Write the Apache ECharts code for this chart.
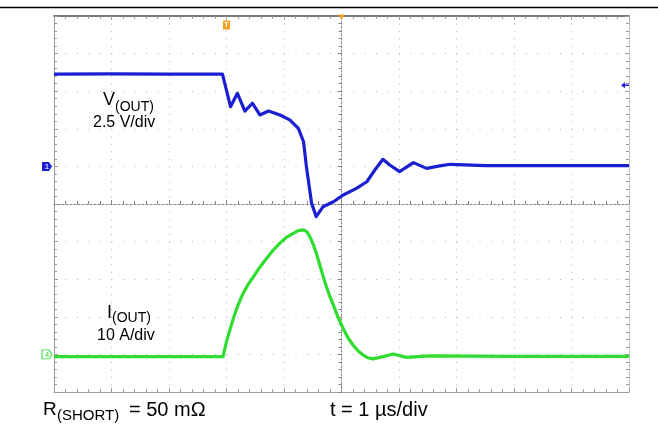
<!DOCTYPE html>
<html><head><meta charset="utf-8">
<script src="https://cdn.jsdelivr.net/npm/echarts@6/dist/echarts.min.js"></script>
<style>html,body{margin:0;padding:0;background:#fff}#c{width:658px;height:425px}</style>
</head><body><div id="c"></div>
<script>
// time in microseconds (1 us/div, 10 divisions)
const vTime  = [0, 1, 2, 2.93, 3.07, 3.19, 3.32, 3.45, 3.58, 3.73, 3.93, 4.10, 4.25, 4.34, 4.39, 4.48, 4.56, 4.68, 4.86, 5.03, 5.26, 5.44, 5.58, 5.72, 5.84, 6.01, 6.25, 6.48, 6.71, 6.89, 7.5, 8.5, 10];
// V(OUT) in volts (2.5 V/div)
const vValue = [6.14, 6.15, 6.14, 6.14, 3.97, 4.86, 3.68, 4.20, 3.42, 3.68, 3.42, 3.09, 2.53, 1.64, -0.02, -2.45, -3.34, -2.68, -2.35, -1.90, -1.46, -1.02, -0.24, 0.47, 0.09, -0.35, 0.25, -0.13, 0.03, 0.14, 0.05, 0.05, 0.05];
const iTime  = [0, 2.94, 3.00, 3.06, 3.12, 3.20, 3.29, 3.38, 3.47, 3.58, 3.70, 3.81, 3.93, 4.04, 4.16, 4.25, 4.34, 4.40, 4.45, 4.51, 4.57, 4.64, 4.71, 4.78, 4.86, 4.94, 5.03, 5.11, 5.20, 5.29, 5.38, 5.46, 5.55, 5.72, 5.90, 6.13, 6.54, 8, 10];
// I(OUT) in amperes (10 A/div)
const iValue = [-0.6, -0.6, 3.4, 6.6, 9.6, 13.1, 16.3, 18.7, 20.7, 23.2, 25.6, 27.7, 29.6, 31.1, 32.2, 32.9, 33.1, 32.6, 31.3, 29.2, 26.5, 22.9, 19.3, 16.1, 13.1, 9.8, 6.9, 4.5, 2.5, 0.9, -0.2, -0.9, -1.2, -0.6, 0.1, -0.8, -0.4, -0.5, -0.5];

const vAxisRange = [-15, 10];   // ground of CH1 at 4 div from top
const iAxisRange = [-10, 90];   // ground of CH4 at 9 div from top
const tRange = [0, 10];

const FONT = "'Liberation Sans', Arial, sans-serif";
const BLUE = '#1b1fd2';
const GREEN = '#2fdc2f';
const ORANGE = '#f0a020';

const chart = echarts.init(document.getElementById('c'));
const borderC = '#a0a0a0';
const tickC = '#9a9a9a';

const option = {
  animation: false,
  backgroundColor: '#fff',
  grid: { left: 54, right: 29, top: 16, bottom: 33 },
  xAxis: [
    { type: 'value', min: tRange[0], max: tRange[1], interval: 1, position: 'bottom',
      axisLine: { onZero: false, lineStyle: { color: borderC, width: 1 } },
      axisTick: { show: true, inside: true, length: 4, lineStyle: { color: tickC } },
      minorTick: { show: true, splitNumber: 5, length: 3, lineStyle: { color: tickC } },
      axisLabel: { show: false },
      splitLine: { show: true, lineStyle: { color: '#b4b4b4', width: 1, type: [1, 6.52] } } },
    { type: 'value', min: tRange[0], max: tRange[1], interval: 1, position: 'top',
      axisLine: { onZero: false, lineStyle: { color: '#7a7a7a', width: 2 } },
      axisTick: { show: true, inside: true, length: 4, lineStyle: { color: tickC } },
      minorTick: { show: true, splitNumber: 5, length: 3, lineStyle: { color: tickC } },
      axisLabel: { show: false }, splitLine: { show: false } },
    { type: 'value', min: tRange[0], max: tRange[1], interval: 1, position: 'bottom', offset: -188,
      axisLine: { onZero: false, lineStyle: { color: '#858585', width: 1, type: [2, 2] } },
      axisTick: { show: true, inside: true, length: 4, lineStyle: { color: '#858585' } },
      minorTick: { show: true, splitNumber: 5, length: 3, lineStyle: { color: '#858585' } },
      axisLabel: { show: false }, splitLine: { show: false } }
  ],
  yAxis: [
    { type: 'value', min: vAxisRange[0], max: vAxisRange[1], interval: 2.5, position: 'left',
      axisLine: { show: true, onZero: false, lineStyle: { color: borderC, width: 1 } },
      axisTick: { show: true, inside: true, length: 4, lineStyle: { color: tickC } },
      minorTick: { show: true, splitNumber: 5, length: 3, lineStyle: { color: tickC } },
      axisLabel: { show: false },
      splitLine: { show: true, lineStyle: { color: '#b4b4b4', width: 1, type: [1, 10.5] } } },
    { type: 'value', min: iAxisRange[0], max: iAxisRange[1], interval: 10, position: 'right',
      axisLine: { show: true, onZero: false, lineStyle: { color: '#c4c4c4', width: 1 } },
      axisTick: { show: true, inside: true, length: 4, lineStyle: { color: tickC } },
      minorTick: { show: true, splitNumber: 5, length: 3, lineStyle: { color: tickC } },
      axisLabel: { show: false }, splitLine: { show: false } },
    { type: 'value', min: vAxisRange[0], max: vAxisRange[1], interval: 2.5, position: 'left', offset: -287.5,
      axisLine: { show: true, onZero: false, lineStyle: { color: '#858585', width: 1, type: [2, 2] } },
      axisTick: { show: true, inside: false, length: 4, lineStyle: { color: '#858585' } },
      minorTick: { show: true, splitNumber: 5, length: 3, lineStyle: { color: '#858585' } },
      axisLabel: { show: false }, splitLine: { show: false } }
  ],
  series: [
    { name: 'V(OUT)', type: 'line', xAxisIndex: 0, yAxisIndex: 0, z: 4,
      data: vTime.map((t, k) => [t, vValue[k]]),
      showSymbol: false, symbol: 'none',
      lineStyle: { color: BLUE, width: 3.2, join: 'round' },
      markPoint: {
        data: [
          { coord: [0, 0], symbol: 'path://M0,0 L7,0 L10,4 L7,8 L0,8 Z', symbolSize: [10, 9], symbolOffset: [-7, 0],
            itemStyle: { color: BLUE },
            label: { show: true, position: 'inside', formatter: '1', color: '#fff', fontSize: 8, fontFamily: FONT } },
          { coord: [10, 5.4], symbol: 'path://M0,4 L5,0 L5,3 L10,3 L10,5 L5,5 L5,8 Z', symbolSize: [8, 6], symbolOffset: [-4, 0],
            itemStyle: { color: BLUE }, label: { show: false } },
          { coord: [3.0, 9.4], symbol: 'rect', symbolSize: [7, 9], itemStyle: { color: ORANGE },
            label: { show: true, position: 'inside', formatter: 'T', color: '#fff', fontSize: 7, fontWeight: 'bold', fontFamily: FONT } },
          { coord: [5, 10], symbol: 'path://M0,0 L10,0 L5,6 Z', symbolSize: [7, 5], symbolOffset: [0, 1],
            itemStyle: { color: ORANGE }, label: { show: false } }
        ]
      } },
    { name: 'I(OUT)', type: 'line', xAxisIndex: 0, yAxisIndex: 1, z: 3,
      data: iTime.map((t, k) => [t, iValue[k]]),
      showSymbol: false, symbol: 'none',
      lineStyle: { color: GREEN, width: 3.2, join: 'round' },
      markPoint: {
        data: [
          { coord: [0, 0], symbol: 'path://M0,0 L7,0 L10,4 L7,8 L0,8 Z', symbolSize: [10, 9], symbolOffset: [-7, 0],
            itemStyle: { color: '#fff', borderColor: GREEN, borderWidth: 1 },
            label: { show: true, position: 'inside', formatter: '4', color: GREEN, fontSize: 8, fontFamily: FONT } }
        ]
      } }
  ],
  graphic: [
    { type: 'line', shape: { x1: 0, y1: 7.5, x2: 658, y2: 7.5 }, style: { stroke: '#000', lineWidth: 1.5 }, z: 10 },
    { type: 'text', x: 103, y: 100, style: { text: 'V', font: '18px ' + FONT, fill: '#000', verticalAlign: 'middle', textVerticalAlign: 'middle' }, z: 10 },
    { type: 'text', x: 115, y: 107, style: { text: '(OUT)', font: '14px ' + FONT, fill: '#000', verticalAlign: 'middle', textVerticalAlign: 'middle' }, z: 10 },
    { type: 'text', x: 93, y: 122.5, style: { text: '2.5 V/div', font: '16px ' + FONT, fill: '#000', verticalAlign: 'middle', textVerticalAlign: 'middle' }, z: 10 },
    { type: 'text', x: 107, y: 313, style: { text: 'I', font: '18px ' + FONT, fill: '#000', verticalAlign: 'middle', textVerticalAlign: 'middle' }, z: 10 },
    { type: 'text', x: 112, y: 318, style: { text: '(OUT)', font: '14px ' + FONT, fill: '#000', verticalAlign: 'middle', textVerticalAlign: 'middle' }, z: 10 },
    { type: 'text', x: 97, y: 336, style: { text: '10 A/div', font: '16px ' + FONT, fill: '#000', verticalAlign: 'middle', textVerticalAlign: 'middle' }, z: 10 },
    { type: 'text', x: 43, y: 410, style: { text: 'R', font: '19px ' + FONT, fill: '#000', verticalAlign: 'middle', textVerticalAlign: 'middle' }, z: 10 },
    { type: 'text', x: 57, y: 416, style: { text: '(SHORT)', font: '15px ' + FONT, fill: '#000', verticalAlign: 'middle', textVerticalAlign: 'middle' }, z: 10 },
    { type: 'text', x: 129, y: 410, style: { text: '= 50 m\u03A9', font: '20px ' + FONT, fill: '#000', verticalAlign: 'middle', textVerticalAlign: 'middle' }, z: 10 },
    { type: 'text', x: 330, y: 410, style: { text: 't = 1 \u00B5s/div', font: '20px ' + FONT, fill: '#000', verticalAlign: 'middle', textVerticalAlign: 'middle' }, z: 10 }
  ]
};
chart.setOption(option);
</script>
</body></html>
